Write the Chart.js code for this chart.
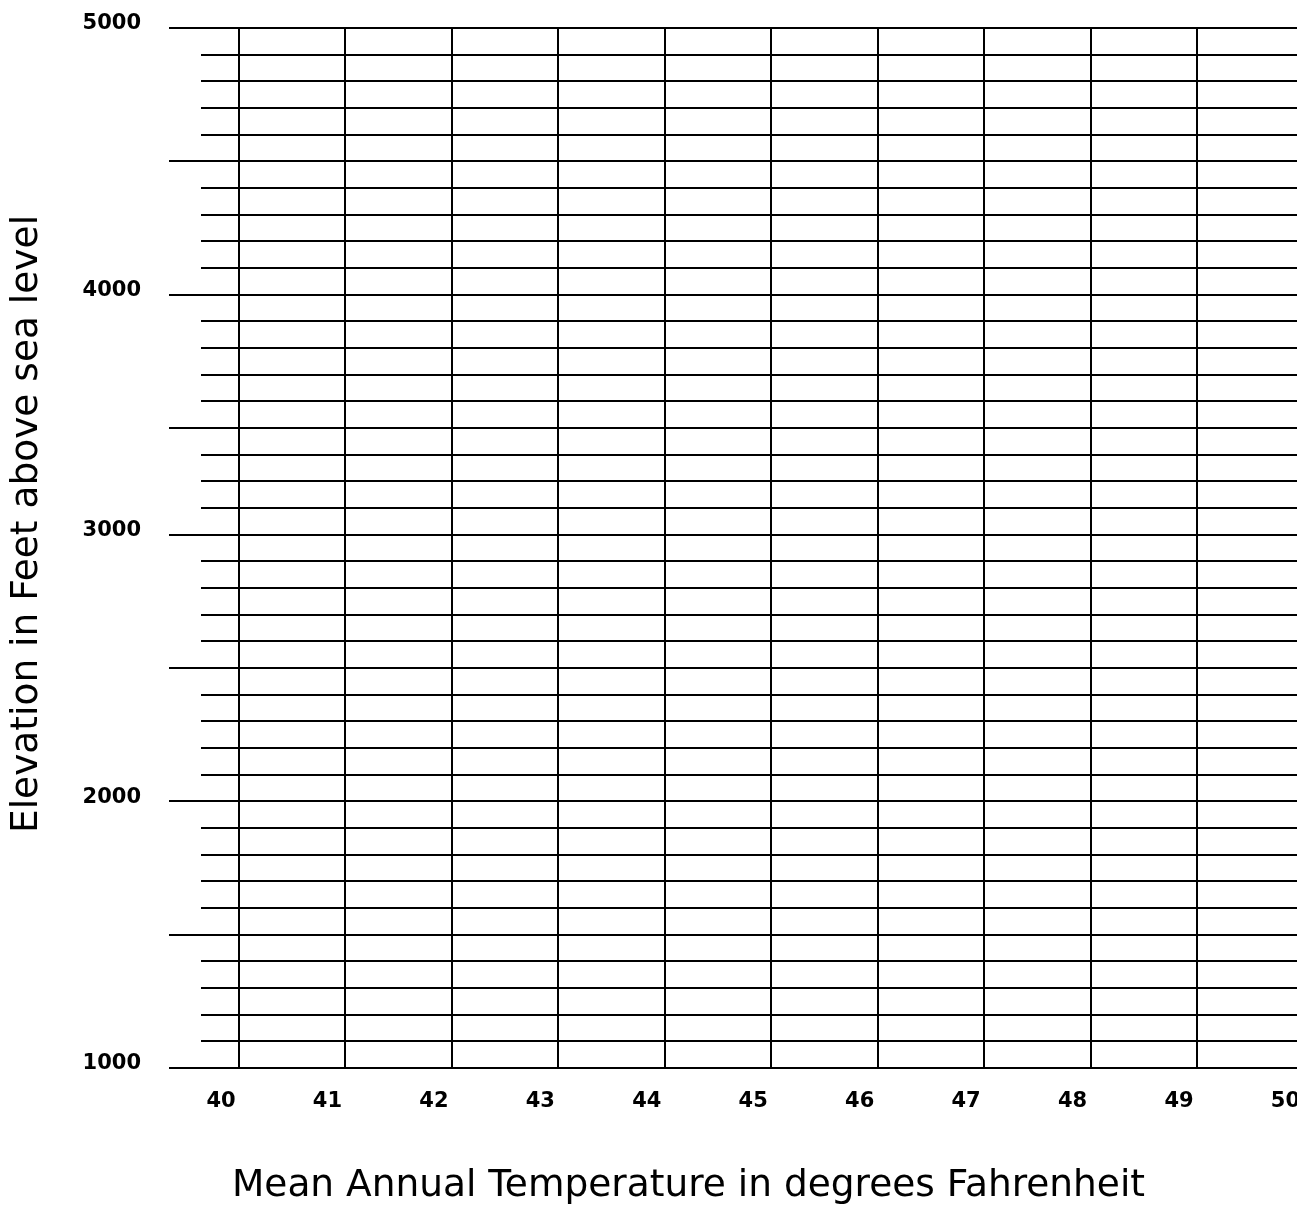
<!DOCTYPE html>
<html>
<head>
<meta charset="utf-8">
<script src="https://cdn.jsdelivr.net/npm/chart.js@4.4.1/dist/chart.umd.min.js"></script>
<style>
	html, body { margin: 0; padding: 0; background: #fff; overflow: hidden; }
	#wrap { width: 1377px; height: 1209px; }
</style>
</head>
<body>
<div id="wrap"><canvas id="gridChart" width="1377" height="1209"></canvas></div>
<script>
// x축: 온도 눈금 (세로선은 40~49에, 라벨은 선 왼쪽에 조금 밀려 찍힘)
const xTicks = [40, 41, 42, 43, 44, 45, 46, 47, 48, 49, 50];
const xLabels = ['40', '41', '42', '43', '44', '45', '46', '47', '48', '49', '50'];

// y축: 모눈 한 칸 = 1 row (3000~3500 구간만 4칸)
const yRows = [0, 1, 2, 3, 4, 5, 6, 7, 8, 9, 10, 11, 12, 13, 14, 15, 16, 17, 18, 19,
	20, 21, 22, 23, 24, 25, 26, 27, 28, 29, 30, 31, 32, 33, 34, 35, 36, 37, 38, 39];
const yMajorRows = [0, 5, 10, 15, 20, 24, 29, 34, 39];
const yLabelRows = [0, 10, 20, 29, 39];
const yLabels = ['1000', '2000', '3000', '4000', '5000'];

const xTitle = 'Mean Annual Temperature in degrees Fahrenheit';
const yTitle = 'Elevation in Feet above sea level';

const tickFont = { family: 'DejaVu Sans', size: 21, weight: 'bold' };
const titleFont = { family: 'DejaVu Sans', size: 37.5, weight: 'normal' };

// y축 제목 (세로 글씨)
const yTitlePlugin = {
	id: 'yTitle',
	afterDraw(chart) {
		const ctx = chart.ctx;
		ctx.save();
		ctx.translate(27, 524);
		ctx.rotate(-Math.PI / 2);
		ctx.font = `${titleFont.size}px "${titleFont.family}"`;
		ctx.fillStyle = '#000';
		ctx.textAlign = 'center';
		ctx.textBaseline = 'middle';
		ctx.fillText(yTitle, 0, 0);
		ctx.restore();
	}
};

const ctx = document.getElementById('gridChart').getContext('2d');
new Chart(ctx, {
	type: 'scatter',
	data: { datasets: [{ data: [] }] },
	plugins: [yTitlePlugin],
	options: {
		responsive: false,
		animation: false,
		layout: { padding: { top: 28, left: 0, right: 0, bottom: 0 } },
		plugins: {
			legend: { display: false },
			tooltip: { enabled: false },
			title: {
				display: true,
				position: 'bottom',
				text: xTitle,
				color: '#000',
				font: titleFont,
				padding: { top: 0, bottom: 0 }
			}
		},
		scales: {
			x: {
				type: 'linear',
				min: 39.643,
				max: 50.691,
				afterBuildTicks: (scale) => { scale.ticks = xTicks.map(v => ({ value: v })); },
				afterFit: (scale) => { scale.height = 96; },
				border: { display: false },
				grid: { color: '#000', lineWidth: 2, drawTicks: false },
				ticks: {
					autoSkip: false,
					maxRotation: 0,
					color: '#000',
					font: tickFont,
					padding: 21,
					labelOffset: -18,
					callback: (value, i) => xLabels[i]
				}
			},
			y: {
				type: 'linear',
				min: 0,
				max: 39,
				afterBuildTicks: (scale) => { scale.ticks = yRows.map(v => ({ value: v })); },
				afterFit: (scale) => {
					scale.width = 201;
					// 라벨 여백 때문에 위쪽이 밀리지 않게
					scale.paddingTop = 0;
					scale.paddingBottom = 0;
				},
				border: { display: false },
				grid: {
					color: '#000',
					lineWidth: 2,
					tickLength: 32,
					tickWidth: 2,
					tickColor: (c) => yMajorRows.includes(c.tick.value) ? '#000' : 'rgba(0,0,0,0)'
				},
				ticks: {
					autoSkip: false,
					color: '#000',
					font: tickFont,
					padding: 28,
					labelOffset: -4,
					callback: (value) => {
						const k = yLabelRows.indexOf(value);
						return k >= 0 ? yLabels[k] : '';
					}
				}
			}
		}
	}
});
</script>
</body>
</html>
